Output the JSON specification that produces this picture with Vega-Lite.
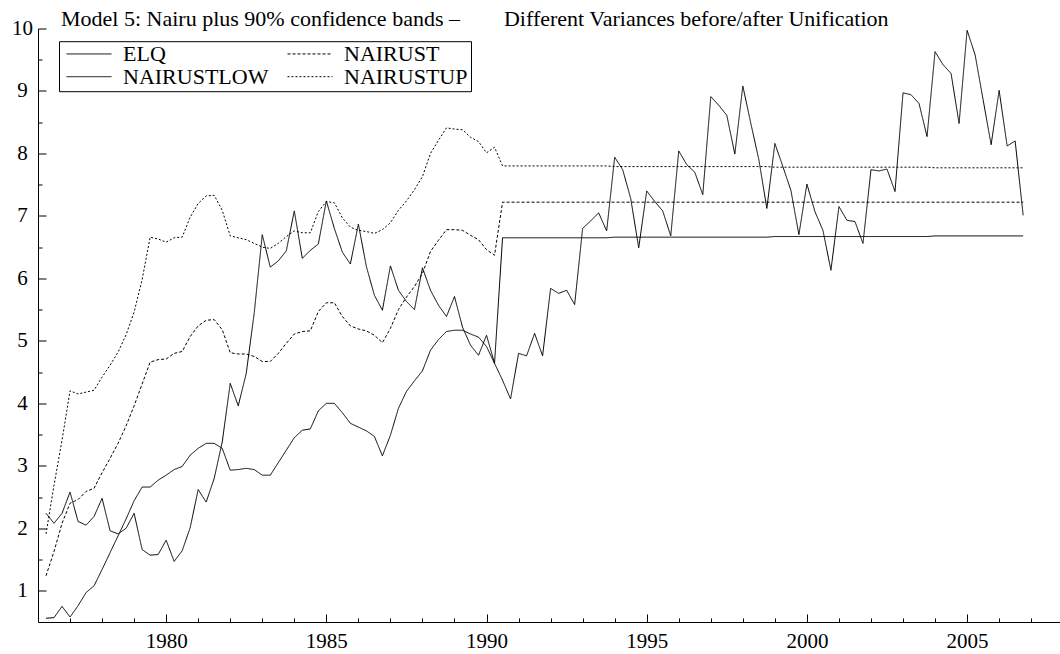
{
"$schema": "https://vega.github.io/schema/vega-lite/v6.json",
"width": 1022, "height": 593.5,
"autosize": {"type": "none"},
"padding": {"left": 38, "top": 28.5, "right": 0, "bottom": 32},
"background": "white",
"config": {"view": {"stroke": null}, "font": "Liberation Serif"},
"title": {"text": "Model 5: Nairu plus 90% confidence bands –\u2003\u2003Different Variances before/after Unification", "anchor": "start", "frame": "group", "dx": 23, "offset": -13, "font": "Liberation Serif", "fontSize": 22, "fontWeight": "normal", "color": "black"},
"data": {"values": [
{"t":1976.25,"ELQ":2.24,"NAIRUST":1.24,"NAIRUSTLOW":0.56,"NAIRUSTUP":1.91},
{"t":1976.5,"ELQ":2.08,"NAIRUST":1.63,"NAIRUSTLOW":0.57,"NAIRUSTUP":2.69},
{"t":1976.75,"ELQ":2.24,"NAIRUST":2.08,"NAIRUSTLOW":0.75,"NAIRUSTUP":3.41},
{"t":1977.0,"ELQ":2.58,"NAIRUST":2.40,"NAIRUSTLOW":0.58,"NAIRUSTUP":4.20},
{"t":1977.25,"ELQ":2.11,"NAIRUST":2.46,"NAIRUSTLOW":0.76,"NAIRUSTUP":4.15},
{"t":1977.5,"ELQ":2.05,"NAIRUST":2.59,"NAIRUSTLOW":0.97,"NAIRUSTUP":4.18},
{"t":1977.75,"ELQ":2.19,"NAIRUST":2.64,"NAIRUSTLOW":1.08,"NAIRUSTUP":4.21},
{"t":1978.0,"ELQ":2.48,"NAIRUST":2.89,"NAIRUSTLOW":1.34,"NAIRUSTUP":4.42},
{"t":1978.25,"ELQ":1.96,"NAIRUST":3.12,"NAIRUSTLOW":1.61,"NAIRUSTUP":4.61},
{"t":1978.5,"ELQ":1.91,"NAIRUST":3.36,"NAIRUSTLOW":1.88,"NAIRUSTUP":4.82},
{"t":1978.75,"ELQ":2.00,"NAIRUST":3.64,"NAIRUSTLOW":2.15,"NAIRUSTUP":5.10},
{"t":1979.0,"ELQ":2.24,"NAIRUST":3.96,"NAIRUSTLOW":2.44,"NAIRUSTUP":5.46},
{"t":1979.25,"ELQ":1.66,"NAIRUST":4.31,"NAIRUSTLOW":2.66,"NAIRUSTUP":5.98},
{"t":1979.5,"ELQ":1.57,"NAIRUST":4.66,"NAIRUSTLOW":2.66,"NAIRUSTUP":6.66},
{"t":1979.75,"ELQ":1.58,"NAIRUST":4.70,"NAIRUSTLOW":2.77,"NAIRUSTUP":6.63},
{"t":1980.0,"ELQ":1.81,"NAIRUST":4.71,"NAIRUSTLOW":2.85,"NAIRUSTUP":6.58},
{"t":1980.25,"ELQ":1.47,"NAIRUST":4.80,"NAIRUSTLOW":2.94,"NAIRUSTUP":6.65},
{"t":1980.5,"ELQ":1.64,"NAIRUST":4.83,"NAIRUSTLOW":2.99,"NAIRUSTUP":6.66},
{"t":1980.75,"ELQ":2.01,"NAIRUST":5.07,"NAIRUSTLOW":3.17,"NAIRUSTUP":6.98},
{"t":1981.0,"ELQ":2.62,"NAIRUST":5.24,"NAIRUSTLOW":3.28,"NAIRUSTUP":7.20},
{"t":1981.25,"ELQ":2.42,"NAIRUST":5.33,"NAIRUSTLOW":3.36,"NAIRUSTUP":7.32},
{"t":1981.5,"ELQ":2.80,"NAIRUST":5.34,"NAIRUSTLOW":3.36,"NAIRUSTUP":7.33},
{"t":1981.75,"ELQ":3.38,"NAIRUST":5.18,"NAIRUSTLOW":3.28,"NAIRUSTUP":7.09},
{"t":1982.0,"ELQ":4.32,"NAIRUST":4.81,"NAIRUSTLOW":2.93,"NAIRUSTUP":6.68},
{"t":1982.25,"ELQ":3.96,"NAIRUST":4.79,"NAIRUSTLOW":2.94,"NAIRUSTUP":6.65},
{"t":1982.5,"ELQ":4.48,"NAIRUST":4.79,"NAIRUSTLOW":2.96,"NAIRUSTUP":6.62},
{"t":1982.75,"ELQ":5.45,"NAIRUST":4.75,"NAIRUSTLOW":2.94,"NAIRUSTUP":6.56},
{"t":1983.0,"ELQ":6.70,"NAIRUST":4.67,"NAIRUSTLOW":2.85,"NAIRUSTUP":6.50},
{"t":1983.25,"ELQ":6.18,"NAIRUST":4.67,"NAIRUSTLOW":2.85,"NAIRUSTUP":6.48},
{"t":1983.5,"ELQ":6.28,"NAIRUST":4.80,"NAIRUSTLOW":3.05,"NAIRUSTUP":6.56},
{"t":1983.75,"ELQ":6.44,"NAIRUST":4.96,"NAIRUSTLOW":3.25,"NAIRUSTUP":6.67},
{"t":1984.0,"ELQ":7.08,"NAIRUST":5.11,"NAIRUSTLOW":3.45,"NAIRUSTUP":6.76},
{"t":1984.25,"ELQ":6.32,"NAIRUST":5.15,"NAIRUSTLOW":3.57,"NAIRUSTUP":6.73},
{"t":1984.5,"ELQ":6.45,"NAIRUST":5.16,"NAIRUSTLOW":3.59,"NAIRUSTUP":6.73},
{"t":1984.75,"ELQ":6.55,"NAIRUST":5.47,"NAIRUSTLOW":3.88,"NAIRUSTUP":7.07},
{"t":1985.0,"ELQ":7.24,"NAIRUST":5.61,"NAIRUSTLOW":4.00,"NAIRUSTUP":7.23},
{"t":1985.25,"ELQ":6.80,"NAIRUST":5.61,"NAIRUSTLOW":4.00,"NAIRUSTUP":7.21},
{"t":1985.5,"ELQ":6.42,"NAIRUST":5.39,"NAIRUSTLOW":3.85,"NAIRUSTUP":6.97},
{"t":1985.75,"ELQ":6.23,"NAIRUST":5.24,"NAIRUSTLOW":3.68,"NAIRUSTUP":6.82},
{"t":1986.0,"ELQ":6.87,"NAIRUST":5.19,"NAIRUSTLOW":3.62,"NAIRUSTUP":6.77},
{"t":1986.25,"ELQ":6.19,"NAIRUST":5.16,"NAIRUSTLOW":3.56,"NAIRUSTUP":6.75},
{"t":1986.5,"ELQ":5.73,"NAIRUST":5.09,"NAIRUSTLOW":3.47,"NAIRUSTUP":6.72},
{"t":1986.75,"ELQ":5.49,"NAIRUST":4.97,"NAIRUSTLOW":3.16,"NAIRUSTUP":6.78},
{"t":1987.0,"ELQ":6.20,"NAIRUST":5.20,"NAIRUSTLOW":3.49,"NAIRUSTUP":6.89},
{"t":1987.25,"ELQ":5.81,"NAIRUST":5.50,"NAIRUSTLOW":3.92,"NAIRUSTUP":7.09},
{"t":1987.5,"ELQ":5.63,"NAIRUST":5.70,"NAIRUSTLOW":4.19,"NAIRUSTUP":7.24},
{"t":1987.75,"ELQ":5.50,"NAIRUST":5.87,"NAIRUSTLOW":4.36,"NAIRUSTUP":7.42},
{"t":1988.0,"ELQ":6.17,"NAIRUST":6.08,"NAIRUSTLOW":4.52,"NAIRUSTUP":7.63},
{"t":1988.25,"ELQ":5.81,"NAIRUST":6.43,"NAIRUSTLOW":4.85,"NAIRUSTUP":8.00},
{"t":1988.5,"ELQ":5.57,"NAIRUST":6.61,"NAIRUSTLOW":5.02,"NAIRUSTUP":8.21},
{"t":1988.75,"ELQ":5.39,"NAIRUST":6.78,"NAIRUSTLOW":5.15,"NAIRUSTUP":8.41},
{"t":1989.0,"ELQ":5.71,"NAIRUST":6.78,"NAIRUSTLOW":5.17,"NAIRUSTUP":8.39},
{"t":1989.25,"ELQ":5.22,"NAIRUST":6.77,"NAIRUSTLOW":5.17,"NAIRUSTUP":8.38},
{"t":1989.5,"ELQ":4.93,"NAIRUST":6.69,"NAIRUSTLOW":5.11,"NAIRUSTUP":8.26},
{"t":1989.75,"ELQ":4.77,"NAIRUST":6.62,"NAIRUSTLOW":5.06,"NAIRUSTUP":8.19},
{"t":1990.0,"ELQ":5.09,"NAIRUST":6.46,"NAIRUSTLOW":4.91,"NAIRUSTUP":8.01},
{"t":1990.25,"ELQ":4.64,"NAIRUST":6.37,"NAIRUSTLOW":4.64,"NAIRUSTUP":8.10},
{"t":1990.5,"ELQ":4.37,"NAIRUST":7.22,"NAIRUSTLOW":6.65,"NAIRUSTUP":7.80},
{"t":1990.75,"ELQ":4.07,"NAIRUST":7.22,"NAIRUSTLOW":6.65,"NAIRUSTUP":7.80},
{"t":1991.0,"ELQ":4.80,"NAIRUST":7.22,"NAIRUSTLOW":6.65,"NAIRUSTUP":7.80},
{"t":1991.25,"ELQ":4.76,"NAIRUST":7.22,"NAIRUSTLOW":6.65,"NAIRUSTUP":7.80},
{"t":1991.5,"ELQ":5.12,"NAIRUST":7.22,"NAIRUSTLOW":6.65,"NAIRUSTUP":7.80},
{"t":1991.75,"ELQ":4.76,"NAIRUST":7.22,"NAIRUSTLOW":6.65,"NAIRUSTUP":7.80},
{"t":1992.0,"ELQ":5.84,"NAIRUST":7.22,"NAIRUSTLOW":6.65,"NAIRUSTUP":7.80},
{"t":1992.25,"ELQ":5.76,"NAIRUST":7.22,"NAIRUSTLOW":6.65,"NAIRUSTUP":7.80},
{"t":1992.5,"ELQ":5.81,"NAIRUST":7.22,"NAIRUSTLOW":6.65,"NAIRUSTUP":7.80},
{"t":1992.75,"ELQ":5.58,"NAIRUST":7.22,"NAIRUSTLOW":6.65,"NAIRUSTUP":7.80},
{"t":1993.0,"ELQ":6.80,"NAIRUST":7.22,"NAIRUSTLOW":6.65,"NAIRUSTUP":7.80},
{"t":1993.25,"ELQ":6.92,"NAIRUST":7.22,"NAIRUSTLOW":6.65,"NAIRUSTUP":7.80},
{"t":1993.5,"ELQ":7.05,"NAIRUST":7.22,"NAIRUSTLOW":6.65,"NAIRUSTUP":7.80},
{"t":1993.75,"ELQ":6.76,"NAIRUST":7.22,"NAIRUSTLOW":6.65,"NAIRUSTUP":7.80},
{"t":1994.0,"ELQ":7.94,"NAIRUST":7.22,"NAIRUSTLOW":6.66,"NAIRUSTUP":7.79},
{"t":1994.25,"ELQ":7.74,"NAIRUST":7.22,"NAIRUSTLOW":6.66,"NAIRUSTUP":7.79},
{"t":1994.5,"ELQ":7.28,"NAIRUST":7.22,"NAIRUSTLOW":6.66,"NAIRUSTUP":7.79},
{"t":1994.75,"ELQ":6.49,"NAIRUST":7.22,"NAIRUSTLOW":6.66,"NAIRUSTUP":7.79},
{"t":1995.0,"ELQ":7.40,"NAIRUST":7.22,"NAIRUSTLOW":6.66,"NAIRUSTUP":7.79},
{"t":1995.25,"ELQ":7.23,"NAIRUST":7.22,"NAIRUSTLOW":6.66,"NAIRUSTUP":7.79},
{"t":1995.5,"ELQ":7.08,"NAIRUST":7.22,"NAIRUSTLOW":6.66,"NAIRUSTUP":7.79},
{"t":1995.75,"ELQ":6.68,"NAIRUST":7.22,"NAIRUSTLOW":6.66,"NAIRUSTUP":7.79},
{"t":1996.0,"ELQ":8.04,"NAIRUST":7.22,"NAIRUSTLOW":6.66,"NAIRUSTUP":7.79},
{"t":1996.25,"ELQ":7.82,"NAIRUST":7.22,"NAIRUSTLOW":6.66,"NAIRUSTUP":7.79},
{"t":1996.5,"ELQ":7.70,"NAIRUST":7.22,"NAIRUSTLOW":6.66,"NAIRUSTUP":7.79},
{"t":1996.75,"ELQ":7.34,"NAIRUST":7.22,"NAIRUSTLOW":6.66,"NAIRUSTUP":7.79},
{"t":1997.0,"ELQ":8.91,"NAIRUST":7.22,"NAIRUSTLOW":6.66,"NAIRUSTUP":7.79},
{"t":1997.25,"ELQ":8.77,"NAIRUST":7.22,"NAIRUSTLOW":6.66,"NAIRUSTUP":7.79},
{"t":1997.5,"ELQ":8.61,"NAIRUST":7.22,"NAIRUSTLOW":6.66,"NAIRUSTUP":7.79},
{"t":1997.75,"ELQ":7.99,"NAIRUST":7.22,"NAIRUSTLOW":6.66,"NAIRUSTUP":7.79},
{"t":1998.0,"ELQ":9.08,"NAIRUST":7.22,"NAIRUSTLOW":6.66,"NAIRUSTUP":7.79},
{"t":1998.25,"ELQ":8.48,"NAIRUST":7.22,"NAIRUSTLOW":6.66,"NAIRUSTUP":7.79},
{"t":1998.5,"ELQ":7.90,"NAIRUST":7.22,"NAIRUSTLOW":6.66,"NAIRUSTUP":7.79},
{"t":1998.75,"ELQ":7.12,"NAIRUST":7.22,"NAIRUSTLOW":6.66,"NAIRUSTUP":7.79},
{"t":1999.0,"ELQ":8.16,"NAIRUST":7.22,"NAIRUSTLOW":6.67,"NAIRUSTUP":7.78},
{"t":1999.25,"ELQ":7.79,"NAIRUST":7.22,"NAIRUSTLOW":6.67,"NAIRUSTUP":7.78},
{"t":1999.5,"ELQ":7.41,"NAIRUST":7.22,"NAIRUSTLOW":6.67,"NAIRUSTUP":7.78},
{"t":1999.75,"ELQ":6.70,"NAIRUST":7.22,"NAIRUSTLOW":6.67,"NAIRUSTUP":7.78},
{"t":2000.0,"ELQ":7.51,"NAIRUST":7.22,"NAIRUSTLOW":6.67,"NAIRUSTUP":7.78},
{"t":2000.25,"ELQ":7.07,"NAIRUST":7.22,"NAIRUSTLOW":6.67,"NAIRUSTUP":7.78},
{"t":2000.5,"ELQ":6.77,"NAIRUST":7.22,"NAIRUSTLOW":6.67,"NAIRUSTUP":7.78},
{"t":2000.75,"ELQ":6.13,"NAIRUST":7.22,"NAIRUSTLOW":6.67,"NAIRUSTUP":7.78},
{"t":2001.0,"ELQ":7.15,"NAIRUST":7.22,"NAIRUSTLOW":6.67,"NAIRUSTUP":7.78},
{"t":2001.25,"ELQ":6.93,"NAIRUST":7.22,"NAIRUSTLOW":6.67,"NAIRUSTUP":7.78},
{"t":2001.5,"ELQ":6.91,"NAIRUST":7.22,"NAIRUSTLOW":6.67,"NAIRUSTUP":7.78},
{"t":2001.75,"ELQ":6.56,"NAIRUST":7.22,"NAIRUSTLOW":6.67,"NAIRUSTUP":7.78},
{"t":2002.0,"ELQ":7.74,"NAIRUST":7.22,"NAIRUSTLOW":6.67,"NAIRUSTUP":7.78},
{"t":2002.25,"ELQ":7.72,"NAIRUST":7.22,"NAIRUSTLOW":6.67,"NAIRUSTUP":7.78},
{"t":2002.5,"ELQ":7.75,"NAIRUST":7.22,"NAIRUSTLOW":6.67,"NAIRUSTUP":7.78},
{"t":2002.75,"ELQ":7.39,"NAIRUST":7.22,"NAIRUSTLOW":6.67,"NAIRUSTUP":7.78},
{"t":2003.0,"ELQ":8.97,"NAIRUST":7.22,"NAIRUSTLOW":6.67,"NAIRUSTUP":7.78},
{"t":2003.25,"ELQ":8.94,"NAIRUST":7.22,"NAIRUSTLOW":6.67,"NAIRUSTUP":7.78},
{"t":2003.5,"ELQ":8.80,"NAIRUST":7.22,"NAIRUSTLOW":6.67,"NAIRUSTUP":7.78},
{"t":2003.75,"ELQ":8.27,"NAIRUST":7.22,"NAIRUSTLOW":6.67,"NAIRUSTUP":7.78},
{"t":2004.0,"ELQ":9.63,"NAIRUST":7.22,"NAIRUSTLOW":6.68,"NAIRUSTUP":7.77},
{"t":2004.25,"ELQ":9.42,"NAIRUST":7.22,"NAIRUSTLOW":6.68,"NAIRUSTUP":7.77},
{"t":2004.5,"ELQ":9.28,"NAIRUST":7.22,"NAIRUSTLOW":6.68,"NAIRUSTUP":7.77},
{"t":2004.75,"ELQ":8.48,"NAIRUST":7.22,"NAIRUSTLOW":6.68,"NAIRUSTUP":7.77},
{"t":2005.0,"ELQ":9.97,"NAIRUST":7.22,"NAIRUSTLOW":6.68,"NAIRUSTUP":7.77},
{"t":2005.25,"ELQ":9.58,"NAIRUST":7.22,"NAIRUSTLOW":6.68,"NAIRUSTUP":7.77},
{"t":2005.5,"ELQ":8.86,"NAIRUST":7.22,"NAIRUSTLOW":6.68,"NAIRUSTUP":7.77},
{"t":2005.75,"ELQ":8.14,"NAIRUST":7.22,"NAIRUSTLOW":6.68,"NAIRUSTUP":7.77},
{"t":2006.0,"ELQ":9.01,"NAIRUST":7.22,"NAIRUSTLOW":6.68,"NAIRUSTUP":7.77},
{"t":2006.25,"ELQ":8.12,"NAIRUST":7.22,"NAIRUSTLOW":6.68,"NAIRUSTUP":7.77},
{"t":2006.5,"ELQ":8.20,"NAIRUST":7.22,"NAIRUSTLOW":6.68,"NAIRUSTUP":7.77},
{"t":2006.75,"ELQ":7.01,"NAIRUST":7.22,"NAIRUSTLOW":6.68,"NAIRUSTUP":7.77}
]},
"transform": [{"fold": ["ELQ", "NAIRUST", "NAIRUSTLOW", "NAIRUSTUP"], "as": ["series", "value"]}],
"resolve": {"axis": {"x": "independent", "y": "independent"}},
"layer": [
 {"mark": {"type": "line", "strokeWidth": 1, "color": "black"},
  "encoding": {
   "x": {"field": "t", "type": "quantitative", "scale": {"domain": [1976, 2007.9], "nice": false, "zero": false},
     "axis": {"orient": "bottom", "values": [1980, 1985, 1990, 1995, 2000, 2005], "format": "d", "title": null, "grid": false, "tickSize": -8, "labelPadding": 16, "labelFont": "Liberation Serif", "labelFontSize": 21, "labelColor": "black", "domainColor": "black", "tickColor": "black", "domainWidth": 1, "tickWidth": 1, "labelFlush": false, "labelOverlap": false}},
   "y": {"field": "value", "type": "quantitative", "scale": {"domain": [0.5, 10], "nice": false, "zero": false},
     "axis": {"orient": "left", "values": [1, 2, 3, 4, 5, 6, 7, 8, 9, 10], "title": null, "grid": false, "tickSize": -8, "labelPadding": 24, "labelAlign": "center", "labelFont": "Liberation Serif", "labelFontSize": 21, "labelColor": "black", "domainColor": "black", "tickColor": "black", "domainWidth": 1, "tickWidth": 1, "labelFlush": false, "labelOverlap": false}},
   "strokeDash": {"field": "series", "type": "nominal",
     "scale": {"domain": ["ELQ", "NAIRUST", "NAIRUSTLOW", "NAIRUSTUP"], "range": [[1, 0], [3, 2], [1, 0], [2, 2]]},
     "legend": {"title": null, "orient": "none", "legendX": 21, "legendY": 12.7, "columns": 2, "direction": "horizontal", "strokeColor": "black", "padding": 3, "symbolType": "stroke", "symbolSize": 2025, "symbolStrokeWidth": 1, "symbolStrokeColor": "black", "symbolOffset": 4, "clipHeight": 19, "rowPadding": 0, "columnPadding": 14, "labelOffset": 11, "labelFont": "Liberation Serif", "labelFontSize": 22, "labelColor": "black", "fillColor": "white"}}
  }},
 {"mark": {"type": "point", "opacity": 0},
  "encoding": {
   "x": {"field": "t", "type": "quantitative",
     "axis": {"orient": "bottom", "values": [1977, 1978, 1979, 1981, 1982, 1983, 1984, 1986, 1987, 1988, 1989, 1991, 1992, 1993, 1994, 1996, 1997, 1998, 1999, 2001, 2002, 2003, 2004, 2006, 2007], "labels": false, "domain": false, "title": null, "grid": false, "tickSize": -4, "tickColor": "black", "tickWidth": 1}},
   "y": {"field": "value", "type": "quantitative",
     "axis": {"orient": "left", "values": [1.5, 2.5, 3.5, 4.5, 5.5, 6.5, 7.5, 8.5, 9.5], "labels": false, "domain": false, "title": null, "grid": false, "tickSize": -4, "tickColor": "black", "tickWidth": 1}}
  }}
]
}
